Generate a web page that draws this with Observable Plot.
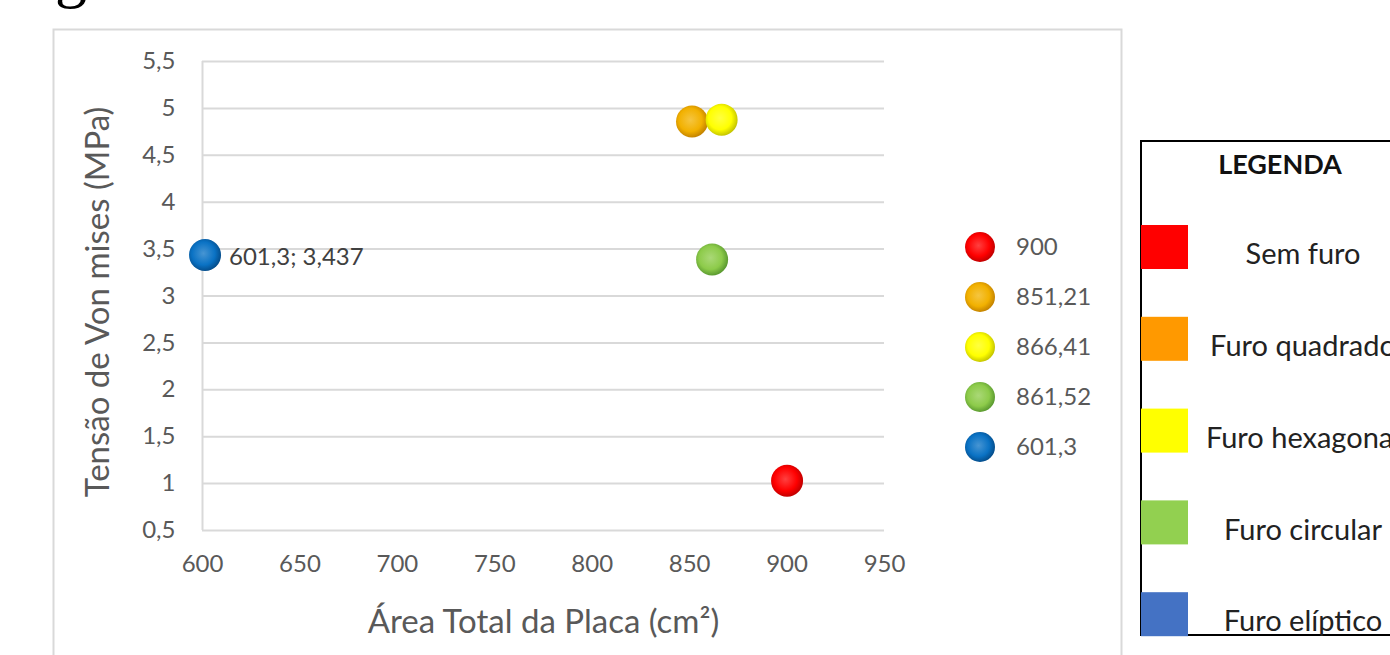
<!DOCTYPE html>
<html><head><meta charset="utf-8">
<script src="https://cdn.jsdelivr.net/npm/d3@7"></script>
<script src="https://cdn.jsdelivr.net/npm/@observablehq/plot@0.6"></script>
<style>html,body{margin:0;padding:0;background:#fff;overflow:hidden}#chart svg{display:block}</style>
</head><body><div id="chart"></div>
<script>
const seriesNames = ["900","851,21","866,41","861,52","601,3"];
const areaValues = [900, 851.21, 866.41, 861.52, 601.3];
const stressValues = [1.03, 4.86, 4.88, 3.39, 3.437];
const markerColors = ["#ff0000","#f2b100","#ffff00","#8dcb4a","#0a72c4"];
const markerShades = ["#b30000","#b97800","#b8b800","#4f8f2a","#03457f"];
const xTicks = [600,650,700,750,800,850,900,950];
const yTicks = [0.5,1,1.5,2,2.5,3,3.5,4,4.5,5,5.5];
const legendLabels = ["Sem furo","Furo quadrado","Furo hexagonal","Furo circular","Furo elíptico"];
const legendColors = ["#ff0000","#ff9900","#ffff00","#92d050","#4472c4"];
const pointLabel = "601,3; 3,437";
const titleText = "geometria de furo testada";
const xTitle = "Área Total da Placa (cm²)";
const yTitle = "Tensão de Von mises (MPa)";
const legendTitle = "LEGENDA";

const points = seriesNames.map((name, i) => ({name, x: areaValues[i], y: stressValues[i], i}));
const comma = d => String(d).replace(".", ",");
const font = "Lato, 'Open Sans', sans-serif";

const svgEl = Plot.plot({
  width: 1390, height: 655,
  marginLeft: 202, marginRight: 506, marginTop: 61, marginBottom: 125,
  style: {fontFamily: font, background: "transparent", overflow: "visible"},
  x: {domain: [600, 950]},
  y: {domain: [0.5, 5.5]},
  marks: [
    Plot.gridY(yTicks, {stroke: "#d9d9d9", strokeOpacity: 1, strokeWidth: 2}),
    Plot.ruleX([600], {stroke: "#d9d9d9", strokeWidth: 2}),
    Plot.axisY(yTicks, {tickSize: 0, tickPadding: 27, tickFormat: comma, fontSize: 24, color: "#595959", label: null}),
    Plot.axisX(xTicks, {tickSize: 0, tickPadding: 24, tickFormat: d => String(d), fontSize: 24, color: "#595959", label: null}),
    Plot.text([yTitle], {text: d => d, frameAnchor: "left", textAnchor: "middle", dx: -104, dy: 6, rotate: -90, fontSize: 33, fill: "#595959"}),
    Plot.text([xTitle], {text: d => d, frameAnchor: "bottom", textAnchor: "middle", dy: 102, fontSize: 33, fill: "#595959"}),
    ...points.map(p => Plot.dot([p], {x: "x", y: "y", r: 16, fill: `url(#grad${p.i})`, stroke: "none"})),
    Plot.text(points.filter(p => p.name === "601,3"), {x: "x", y: "y", text: () => pointLabel, dx: 24, dy: 2, textAnchor: "start", fontSize: 24, fill: "#404040"})
  ]
});

const svg = d3.select(svgEl);
const defs = svg.insert("defs", ":first-child");
markerColors.forEach((c, i) => {
  const g = defs.append("radialGradient").attr("id", `grad${i}`).attr("cx", "45%").attr("cy", "45%").attr("r", "60%");
  g.append("stop").attr("offset", "0%").attr("stop-color", d3.interpolateRgb(c, "#ffffff")(0.25));
  g.append("stop").attr("offset", "60%").attr("stop-color", c);
  g.append("stop").attr("offset", "100%").attr("stop-color", markerShades[i]);
});

// chart frame
svg.insert("rect", ":first-child").attr("x", 53.5).attr("y", 29.5).attr("width", 1068).attr("height", 700)
  .attr("fill", "none").attr("stroke", "#d9d9d9").attr("stroke-width", 2);

// clipped document title above
svg.append("text").attr("x", 55).attr("y", -5).attr("text-anchor", "start")
  .attr("font-family", "'Liberation Serif', serif")
  .attr("font-size", 64).attr("fill", "#000")
  .attr("textLength", 830).attr("lengthAdjust", "spacing").text(titleText);

// series legend inside chart
const leg = svg.append("g").attr("font-family", font).attr("text-anchor", "start");
seriesNames.forEach((name, i) => {
  const cy = 247 + i * 50;
  leg.append("circle").attr("cx", 980).attr("cy", cy).attr("r", 15).attr("fill", `url(#grad${i})`);
  leg.append("text").attr("x", 1016).attr("y", cy).attr("dy", "0.35em").attr("font-size", 24)
    .attr("fill", "#595959").text(name);
});

// external legend box
const box = svg.append("g").attr("font-family", font);
box.append("rect").attr("x", 1141).attr("y", 141).attr("width", 300).attr("height", 494)
  .attr("fill", "#fff").attr("stroke", "#000").attr("stroke-width", 2);
box.append("text").attr("x", 1280).attr("y", 165).attr("dy", "0.35em").attr("text-anchor", "middle")
  .attr("font-size", 27).attr("font-weight", "bold").attr("fill", "#111").text(legendTitle);
legendLabels.forEach((lab, i) => {
  const top = 225 + i * 91.8;
  box.append("rect").attr("x", 1141).attr("y", top).attr("width", 47).attr("height", 44).attr("fill", legendColors[i]);
  box.append("text").attr("x", 1303).attr("y", top + 29).attr("dy", "0.35em").attr("text-anchor", "middle")
    .attr("font-size", 29).attr("fill", "#222").text(lab);
});

document.getElementById("chart").appendChild(svgEl);
</script>
</body></html>
